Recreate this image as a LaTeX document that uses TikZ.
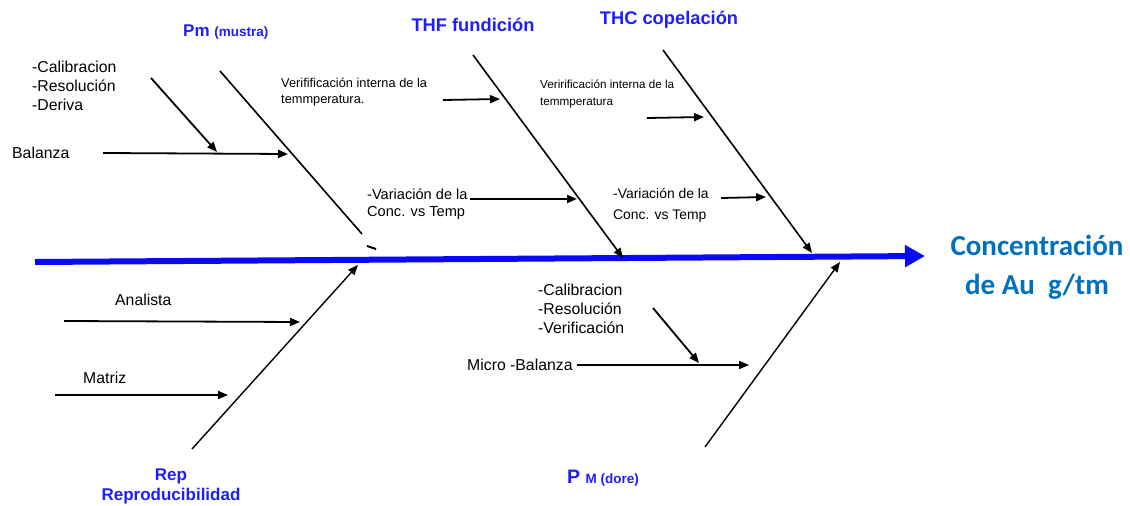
\documentclass[tikz,border=0pt]{standalone}
\usepackage{fontspec}
\setmainfont{Liberation Sans}
\newfontfamily\calib{Carlito}
\usetikzlibrary{arrows.meta}
\definecolor{labelblue}{RGB}{30,30,250}
\definecolor{effblue}{RGB}{0,112,192}
\definecolor{spineblue}{RGB}{10,10,245}
\begin{document}
\begin{tikzpicture}[x=1pt,y=-1pt,
 bone/.style={line width=1.6pt},
 cause/.style={line width=1.8pt,-{Triangle[length=10pt,width=8pt]}},
 txt/.style={anchor=west,inner sep=0pt,align=left,font=\fontsize{15.8}{19}\selectfont},
 small/.style={anchor=west,inner sep=0pt,align=left,font=\fontsize{12.8}{16}\selectfont},
 title/.style={inner sep=0pt,align=center,text=labelblue,font=\bfseries\fontsize{18.3}{20}\selectfont}]
\useasboundingbox (0,0) rectangle (1130,506);
\coordinate (tail) at (35,262);
\coordinate (head) at (925,256);
\coordinate (pmtop) at (220,71);
\coordinate (pmend) at (362,234);
\coordinate (thftop) at (473,55);
\coordinate (thfend) at (623,258);
\coordinate (thctop) at (663,50);
\coordinate (thcend) at (812,253);
\coordinate (repbot) at (192,449);
\coordinate (repend) at (358,265);
\coordinate (pmbot) at (705,447);
\coordinate (pmdend) at (840,262);
\coordinate (bal1) at (103,153);
\coordinate (bal2) at (288,154);
\coordinate (cal1) at (151,78);
\coordinate (cal2) at (217,152);
\coordinate (ver1) at (443,100);
\coordinate (ver2) at (500,99);
\coordinate (verb1) at (647,118);
\coordinate (verb2) at (704,117);
\coordinate (var1) at (470,199);
\coordinate (var2) at (577,199);
\coordinate (varb1) at (721,198);
\coordinate (varb2) at (766,197);
\coordinate (ana1) at (64,321);
\coordinate (ana2) at (300,322);
\coordinate (mat1) at (55,395);
\coordinate (mat2) at (228,395);
\coordinate (mcal1) at (653,308);
\coordinate (mcal2) at (699,363);
\coordinate (mic1) at (577,365);
\coordinate (mic2) at (749,365);
\coordinate (frag1) at (367,246);
\coordinate (frag2) at (376,249);

\draw[line width=6pt,spineblue,-{Triangle[length=20pt,width=21pt]}] (tail) -- (head);
\draw[bone] (pmtop) -- (pmend);
\draw[line width=2pt] (frag1) -- (frag2);
\draw[cause,line width=1.6pt] (thftop) -- (thfend);
\draw[cause,line width=1.6pt] (thctop) -- (thcend);
\draw[cause,line width=1.4pt] (repbot) -- (repend);
\draw[cause,line width=1.4pt] (pmbot) -- (pmdend);

\draw[cause] (bal1) -- (bal2);
\draw[cause] (cal1) -- (cal2);
\draw[cause] (ver1) -- (ver2);
\draw[cause] (verb1) -- (verb2);
\draw[cause] (var1) -- (var2);
\draw[cause] (varb1) -- (varb2);
\draw[cause] (ana1) -- (ana2);
\draw[cause] (mat1) -- (mat2);
\draw[cause] (mcal1) -- (mcal2);
\draw[cause] (mic1) -- (mic2);

\node[txt] (balanza) at (12,153) {Balanza};
\node[txt] (calib) at (32,86) {-Calibracion\\-Resolución\\-Deriva};
\node[small] (verint) at (281,92) {Verifificación interna de la\\temmperatura.};
\node[small,font=\fontsize{11.7}{17}\selectfont] (verintb) at (540,93.5) {Veririficación interna de la\\temmperatura};
\node[txt,font=\fontsize{14.6}{17}\selectfont] (varia) at (367,204.5) {-Variación de la\\Conc. vs Temp};
\node[txt,font=\fontsize{13.9}{21}\selectfont] (variab) at (613,205.5) {-Variación de la\\Conc. vs Temp};
\node[txt] (analista) at (115,300) {Analista};
\node[txt] (matriz) at (83,378) {Matriz};
\node[txt] (mcalib) at (538,309) {-Calibracion\\-Resolución\\-Verificación};
\node[txt] (micro) at (467,365) {Micro -Balanza};

\node[title,anchor=west,font=\bfseries\fontsize{17}{20}\selectfont] (pm) at (183,32) {Pm {\fontsize{13.5}{15}\selectfont(mustra)}};
\node[title] (thf) at (473,25) {THF fundición};
\node[title] (thc) at (669,20) {THC copelación};
\node[title,font=\bfseries\fontsize{17}{20}\selectfont] (rep) at (171,486) {Rep\\Reproducibilidad};
\node[title,anchor=west,font=\bfseries\fontsize{19.5}{20}\selectfont] (pmd) at (567,478) {P {\fontsize{13.5}{15}\selectfont M (dore)}};
\node[inner sep=0pt,align=center,text=effblue,font=\calib\bfseries\fontsize{29}{39}\selectfont] (conc) at (1037,267) {Concentración\\de Au\ \ g/tm};
\end{tikzpicture}
\end{document}
